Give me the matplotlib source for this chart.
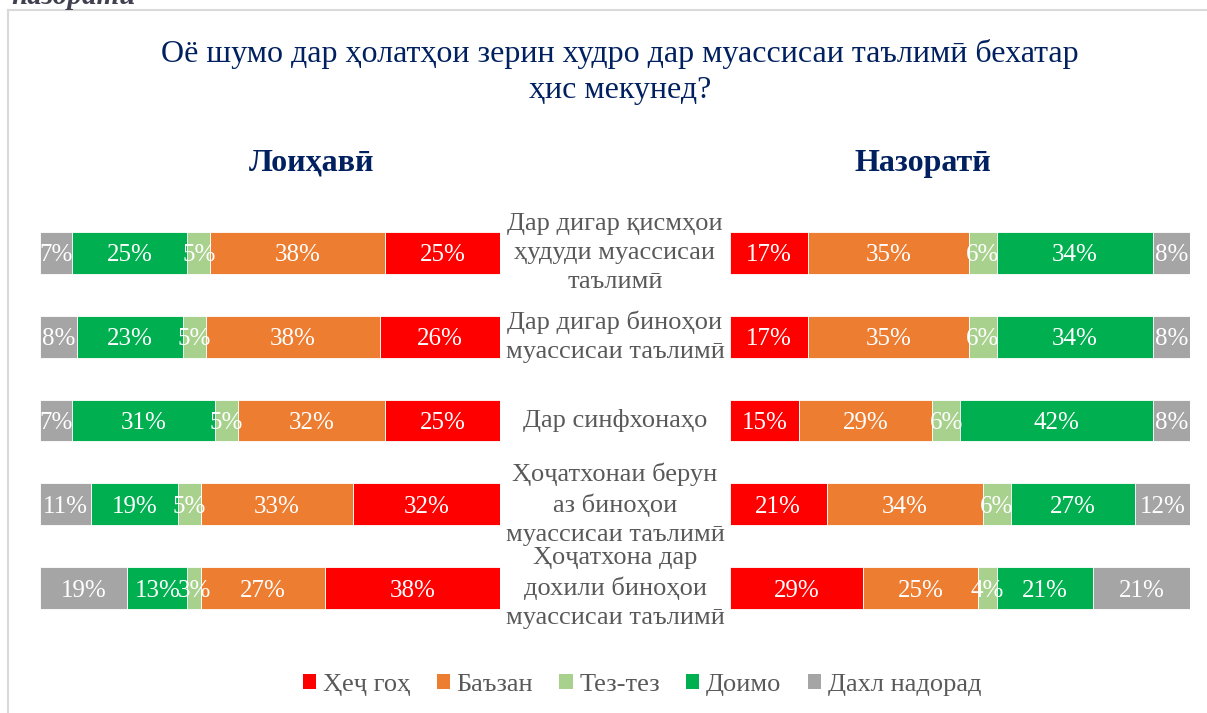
import numpy as np
import matplotlib.pyplot as plt
from matplotlib.patches import Patch
from matplotlib.lines import Line2D
import matplotlib.transforms as mtransforms

plt.rcParams['font.family'] = ['Liberation Serif', 'DejaVu Serif']

# data
categories = [
    "Дар дигар қисмҳои\nҳудуди муассисаи\nтаълимӣ",
    "Дар дигар биноҳои\nмуассисаи таълимӣ",
    "Дар синфхонаҳо",
    "Ҳоҷатхонаи берун\nаз биноҳои\nмуассисаи таълимӣ",
    "Ҳоҷатхона дар\nдохили биноҳои\nмуассисаи таълимӣ",
]
series_names = ["Ҳеҷ гоҳ", "Баъзан", "Тез-тез", "Доимо", "Дахл надорад"]
colors = ["#FF0000", "#ED7D31", "#A9D18E", "#00B050", "#A5A5A5"]

# rows follow categories, columns follow series_names
project_vals = np.array([
    [25, 38, 5, 25, 7],
    [26, 38, 5, 23, 8],
    [25, 32, 5, 31, 7],
    [32, 33, 5, 19, 11],
    [38, 27, 3, 13, 19],
])
control_vals = np.array([
    [17, 35, 6, 34, 8],
    [17, 35, 6, 34, 8],
    [15, 29, 6, 42, 8],
    [21, 34, 6, 27, 12],
    [29, 25, 4, 21, 21],
])

title = "Оё шумо дар ҳолатҳои зерин худро дар муассисаи таълимӣ бехатар\nҳис мекунед?"
panel_titles = ["Лоиҳавӣ", "Назоратӣ"]

W, H = 1207, 713
fig = plt.figure(figsize=(W / 100, H / 100), dpi=100)
navy = "#002060"
gray_txt = "#595959"


def px_box(x0, y0, x1, y1):
    return [x0 / W, 1 - y1 / H, (x1 - x0) / W, (y1 - y0) / H]


ax_l = fig.add_axes(px_box(40, 211, 500, 630))
ax_r = fig.add_axes(px_box(730, 211, 1190, 630))

ypos = np.arange(len(categories))
for ax, vals in [(ax_l, project_vals), (ax_r, control_vals)]:
    left = np.zeros(len(categories))
    for j, name in enumerate(series_names):
        ax.barh(ypos, vals[:, j], left=left, height=0.5, color=colors[j],
                edgecolor="white", linewidth=0.6)
        for i in range(len(categories)):
            ax.text(left[i] + vals[i, j] / 2, ypos[i], f"{vals[i, j]}%",
                    ha="center", va="center_baseline", color="white", fontsize=18)
        left += vals[:, j]
    ax.set_ylim(4.5, -0.5)
    ax.axis("off")

ax_l.set_xlim(100, 0)
ax_r.set_xlim(0, 100)

# category labels in the middle
trans = mtransforms.blended_transform_factory(fig.transFigure, ax_l.transData)
for i, cat in enumerate(categories):
    fig.text(615 / W, ypos[i], cat, transform=trans, ha="center", va="center",
             color=gray_txt, fontsize=19, linespacing=1.4)

fig.text(620 / W, 1 - 72 / H, title, ha="center", va="center", color=navy,
         fontsize=23, linespacing=1.32)
fig.text(312 / W, 1 - 163 / H, panel_titles[0], ha="center", va="center",
         color=navy, fontsize=23, fontweight="bold")
fig.text(923 / W, 1 - 163 / H, panel_titles[1], ha="center", va="center",
         color=navy, fontsize=23, fontweight="bold")

# cut-off text above the chart frame
fig.text(11 / W, 1 - 4 / H, "назоратӣ", ha="left", va="baseline",
         color="#404050", fontsize=21, fontweight="bold", style="italic")

# chart frame
fig.add_artist(Line2D([8 / W, 8 / W], [0, 1 - 10 / H], transform=fig.transFigure,
                      color="#D9D9D9", lw=1.5))
fig.add_artist(Line2D([8 / W, 1], [1 - 10 / H, 1 - 10 / H], transform=fig.transFigure,
                      color="#D9D9D9", lw=1.5))

handles = [Patch(facecolor=c, label=n) for c, n in zip(colors, series_names)]
leg = fig.legend(handles=handles, loc="center", bbox_to_anchor=(642 / W, 1 - 685 / H),
                 ncol=5, frameon=False, fontsize=19, handlelength=0.5,
                 handleheight=0.5, handletextpad=0.25, columnspacing=1.0)
for t in leg.get_texts():
    t.set_color(gray_txt)

fig.savefig("out.png", dpi=100)
